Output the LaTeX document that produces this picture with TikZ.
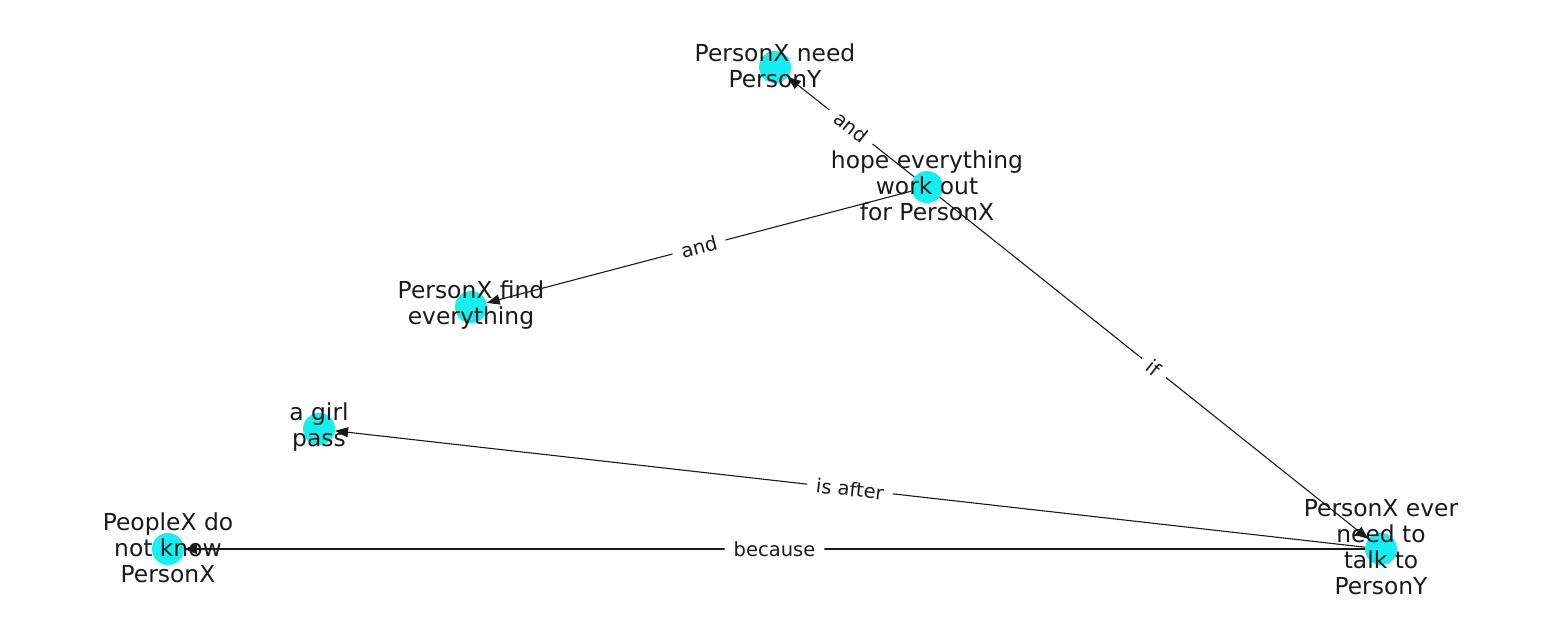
\documentclass[tikz,border=0pt]{standalone}
\usepackage{fontspec}
\setmainfont{DejaVu Sans}
\usetikzlibrary{arrows.meta}
\definecolor{nodecyan}{RGB}{20,240,240}
\definecolor{ink}{RGB}{26,26,26}
\begin{document}
\begin{tikzpicture}[x=1pt,y=-1pt,
  dot/.style={circle,fill=nodecyan,minimum size=32pt,inner sep=0pt},
  txt/.style={align=center,font=\fontsize{23.4}{26}\selectfont,text=ink,inner sep=0pt,yshift=1.5pt},
  rel/.style={draw=ink,line width=1.1pt,-{Triangle[length=13pt,width=10pt]}},
  lab/.style={fill=white,rounded corners=3pt,inner xsep=9pt,inner ysep=5pt,font=\fontsize{19.5}{22}\selectfont,text=ink,sloped,midway}]
\useasboundingbox (0,0) rectangle (1550,616);
\node[dot] (need) at (775,67) {};
\node[dot] (hope) at (927,187) {};
\node[dot] (find) at (471,307) {};
\node[dot] (girl) at (319,429) {};
\node[dot] (people) at (168,549) {};
\node[dot] (ever) at (1381,549) {};
\draw[rel] (hope) -- node[lab]{and} (need);
\draw[rel] (hope) -- node[lab]{and} (find);
\draw[rel] (hope) -- node[lab]{if} (ever);
\draw[rel] (ever) -- node[lab]{is after} (girl);
\draw[rel] (ever) -- node[lab]{because} (people);
\node[txt] (needT) at (need) {PersonX need\\PersonY};
\node[txt] (hopeT) at (hope) {hope everything\\work out\\for PersonX};
\node[txt] (findT) at (find) {PersonX find\\everything};
\node[txt] (girlT) at (girl) {a girl\\pass};
\node[txt] (peopleT) at (people) {PeopleX do\\not know\\PersonX};
\node[txt] (everT) at (ever) {PersonX ever\\need to\\talk to\\PersonY};
\end{tikzpicture}
\end{document}
